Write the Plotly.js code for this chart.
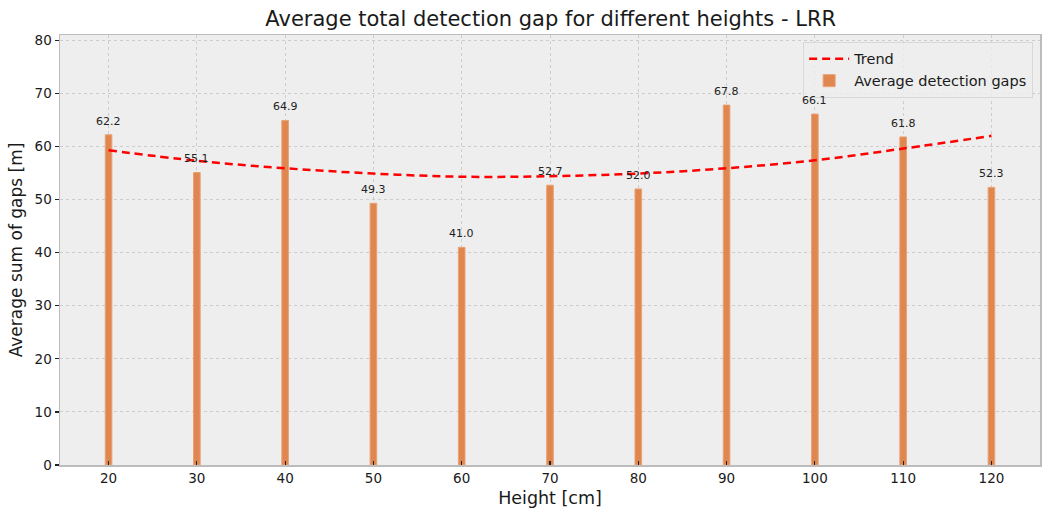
<!DOCTYPE html>
<html>
<head>
<meta charset="utf-8">
<script src="https://cdn.plot.ly/plotly-3.0.1.min.js"></script>
<style>html,body{margin:0;padding:0;background:#fff;}#chart{width:1051px;height:519px;}</style>
</head>
<body>
<div id="chart"></div>
<script>
const heights = [20, 30, 40, 50, 60, 70, 80, 90, 100, 110, 120];
const avgGaps = [62.2, 55.1, 64.9, 49.3, 41.0, 52.7, 52.0, 67.8, 66.1, 61.8, 52.3];
const trendX = [20, 30, 40, 50, 60, 70, 80, 90, 100, 110, 120];
const trendY = [59.3, 57.3, 55.9, 54.9, 54.3, 54.4, 54.9, 55.9, 57.4, 59.6, 62.0];
const labels = avgGaps.map(v => v.toFixed(1));

const font = "DejaVu Sans, sans-serif";

const bars = {
  type: 'bar', x: heights, y: avgGaps, width: 0.75,
  name: 'Average detection gaps',
  marker: {color: '#E0864F', line: {color: '#E9A275', width: 1}},
  legendrank: 2, hoverinfo: 'x+y'
};
const trend = {
  type: 'scatter', mode: 'lines', x: trendX, y: trendY,
  name: 'Trend', line: {color: '#FF0000', width: 2.5, dash: '8px,5px', shape: 'spline'},
  legendrank: 1
};

const annotations = heights.map((h, i) => ({
  x: h, y: avgGaps[i], xref: 'x', yref: 'y', text: labels[i], showarrow: false,
  yanchor: 'bottom', yshift: 5, font: {family: font, size: 11, color: '#222'}
}));

const layout = {
  width: 1051, height: 519,
  margin: {l: 60, r: 11, t: 35, b: 54},
  paper_bgcolor: '#ffffff', plot_bgcolor: '#eeeeee',
  font: {family: font, color: '#222'},
  title: {text: 'Average total detection gap for different heights - LRR', x: 0.524, xanchor: 'center', y: 0.965, yanchor: 'middle', font: {family: font, size: 21, color: '#1a1a1a'}},
  xaxis: {
    range: [14.5, 125.5], tickvals: heights, ticktext: heights.map(String),
    ticks: 'inside', ticklen: 4, tickcolor: '#222', tickwidth: 1.2,
    showgrid: true, gridcolor: '#c4c4c4', griddash: 'dot', gridwidth: 0.8,
    showline: true, linecolor: '#bcbcbc', linewidth: 1.5, mirror: true,
    zeroline: false, tickfont: {family: font, size: 13.5, color: '#1a1a1a'},
    title: {text: 'Height [cm]', font: {family: font, size: 17.5, color: '#1a1a1a'}, standoff: 7}
  },
  yaxis: {
    range: [0, 81], tickvals: [0, 10, 20, 30, 40, 50, 60, 70, 80],
    ticks: 'outside', ticklen: 4, tickcolor: '#222', tickwidth: 1.2,
    showgrid: true, gridcolor: '#c4c4c4', griddash: 'dot', gridwidth: 0.8,
    showline: true, linecolor: '#bcbcbc', linewidth: 1.5, mirror: true,
    zeroline: false, tickfont: {family: font, size: 13.5, color: '#1a1a1a'},
    title: {text: 'Average sum of gaps [m]', font: {family: font, size: 17, color: '#1a1a1a'}, standoff: 7}
  },
  legend: {
    x: 0.993, xanchor: 'right', y: 0.984, yanchor: 'top',
    bgcolor: 'rgba(238,238,238,0.8)', bordercolor: '#d8d8d8', borderwidth: 1,
    font: {family: font, size: 14.5, color: '#1a1a1a'}, tracegroupgap: 2, itemwidth: 40
  },
  annotations: annotations,
  showlegend: true
};

Plotly.newPlot('chart', [bars, trend], layout, {displayModeBar: false, staticPlot: true});
</script>
</body>
</html>
